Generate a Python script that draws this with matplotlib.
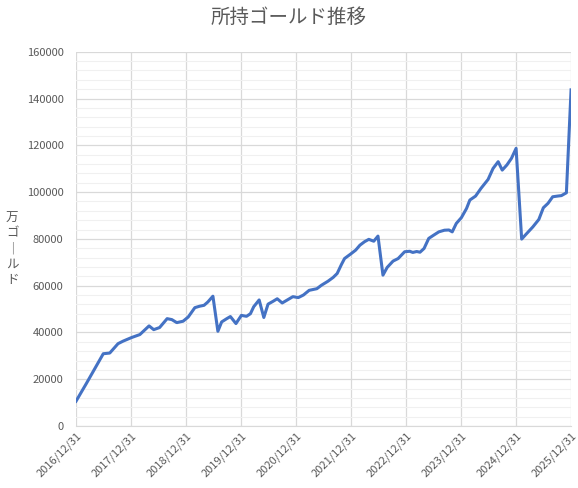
import matplotlib
matplotlib.use("Agg")
import matplotlib.pyplot as plt
import matplotlib.dates as mdates
from matplotlib.ticker import MultipleLocator
import pandas as pd

plt.rcParams["font.family"] = ["Noto Sans CJK JP", "DejaVu Sans"]

# ── data ───────────────────────────────────────────────────────────────────
dates = [
    "2016-12-31", "2017-03-09", "2017-06-30", "2017-08-12", "2017-10-06",
    "2017-11-09", "2018-01-03", "2018-02-28", "2018-04-30", "2018-05-31",
    "2018-07-09", "2018-08-28", "2018-09-28", "2018-10-31", "2018-12-12",
    "2019-01-15", "2019-02-28", "2019-03-31", "2019-04-30", "2019-05-25",
    "2019-06-28", "2019-07-31", "2019-08-25", "2019-09-28", "2019-10-22",
    "2019-11-28", "2020-01-03", "2020-02-06", "2020-03-03", "2020-03-25",
    "2020-04-30", "2020-05-31", "2020-06-28", "2020-07-31", "2020-08-28",
    "2020-09-30", "2020-11-06", "2020-12-10", "2021-01-15", "2021-02-18",
    "2021-03-28", "2021-05-18", "2021-06-18", "2021-07-31", "2021-09-03",
    "2021-09-30", "2021-10-28", "2021-11-18", "2021-12-28", "2022-01-31",
    "2022-02-28", "2022-03-31", "2022-04-28", "2022-05-31", "2022-06-28",
    "2022-07-31", "2022-08-28", "2022-10-06", "2022-11-09", "2022-12-22",
    "2023-01-25", "2023-02-14", "2023-03-12", "2023-04-03", "2023-04-30",
    "2023-05-31", "2023-07-03", "2023-08-06", "2023-09-12", "2023-10-12",
    "2023-11-03", "2023-11-30", "2024-01-03", "2024-02-06", "2024-02-28",
    "2024-04-06", "2024-05-12", "2024-06-28", "2024-07-31", "2024-09-03",
    "2024-09-30", "2024-10-31", "2024-11-30", "2024-12-31", "2025-02-06",
    "2025-03-06", "2025-04-21", "2025-05-31", "2025-06-30", "2025-07-31",
    "2025-08-31", "2025-10-03", "2025-10-28", "2025-11-30", "2025-12-31",
]
gold = [
    10600, 18100, 30900, 31200, 35200,
    36300, 37800, 39100, 42800, 41200,
    42100, 45900, 45500, 44200, 44800,
    46600, 50600, 51200, 51600, 53000,
    55500, 40500, 44500, 45900, 46800,
    43800, 47300, 46900, 48000, 51000,
    53900, 46400, 52100, 53300, 54400,
    52600, 54000, 55300, 54900, 56000,
    58000, 58700, 60200, 61900, 63500,
    65200, 69000, 71600, 73500, 75200,
    77300, 78800, 79800, 79000, 81200,
    64500, 67800, 70500, 71600, 74500,
    74700, 74200, 74600, 74300, 75900,
    80200, 81600, 83000, 83700, 83800,
    83000, 86600, 89100, 93000, 96600,
    98300, 101600, 105400, 110100, 113000,
    109400, 111600, 114400, 118700, 79900,
    81900, 85100, 88300, 93300, 95200,
    98000, 98300, 98500, 99700, 143700,
]
tick_dates = [f"{y}-12-31" for y in range(2016, 2026)]

title = "所持ゴールド推移"
ylabel = "万ゴールド"

# ── plot ───────────────────────────────────────────────────────────────────
x = pd.to_datetime(dates)
ticks = pd.to_datetime(tick_dates)

fig = plt.figure(figsize=(5.78, 4.88), dpi=100)
ax = fig.add_axes([0.1315, 0.127, 0.8565, 0.767])

ax.plot(x, gold, color="#4472C4", linewidth=2.2, solid_joinstyle="round", zorder=3)

ax.set_xlim(ticks[0], ticks[-1])
ax.set_ylim(0, 160000)
ax.set_xticks(ticks)
ax.xaxis.set_major_formatter(mdates.DateFormatter("%Y/%m/%d"))
ax.yaxis.set_major_locator(MultipleLocator(20000))
ax.yaxis.set_minor_locator(MultipleLocator(4000))

ax.grid(True, which="major", color="#d9d9d9", linewidth=0.9)
ax.grid(True, which="minor", axis="y", color="#f0f0f0", linewidth=0.8)
ax.set_axisbelow(True)

for side in ("top", "right", "left"):
    ax.spines[side].set_visible(False)
ax.spines["bottom"].set_color("#d9d9d9")

ax.tick_params(axis="both", which="both", length=0, colors="#595959", labelsize=8)
ax.tick_params(axis="y", pad=9)
plt.setp(ax.get_xticklabels(), rotation=45, ha="right", rotation_mode="anchor")

fig.text(0.5, 0.965, title, ha="center", va="center", fontsize=14, color="#595959")
fig.text(0.021, 0.49, "\n".join(ylabel.replace("ー", "｜")), ha="center", va="center",
         fontsize=9, color="#595959", linespacing=1.25)

fig.savefig("out.png", dpi=100)
